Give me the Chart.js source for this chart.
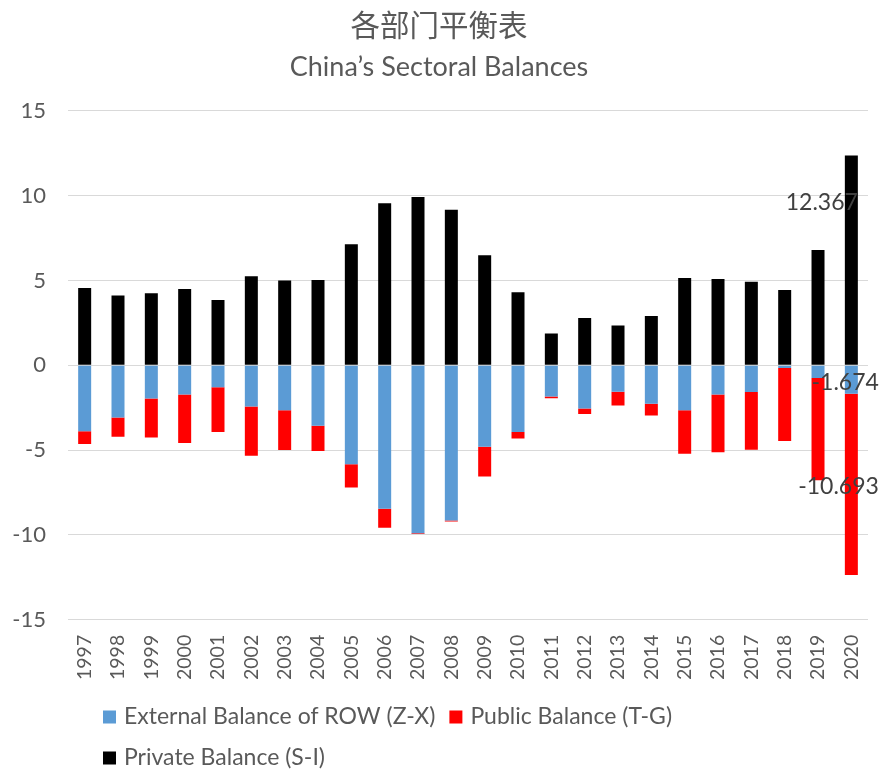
<!DOCTYPE html>
<html>
<head>
<meta charset="utf-8">
<script src="https://cdn.jsdelivr.net/npm/chart.js@4"></script>
<style>
  html, body { margin: 0; padding: 0; background: #fff; }
  #wrap { width: 882px; height: 769px; }
</style>
</head>
<body>
<div id="wrap"><canvas id="myChart"></canvas></div>
<script>
const years = ['1997','1998','1999','2000','2001','2002','2003','2004','2005','2006','2007','2008',
  '2009','2010','2011','2012','2013','2014','2015','2016','2017','2018','2019','2020'];

// External balance of rest of world (Z-X)
const externalBalance = [-3.89, -3.08, -1.96, -1.72, -1.30, -2.43, -2.65, -3.56, -5.83, -8.46, -9.90, -9.15,
  -4.80, -3.93, -1.84, -2.55, -1.56, -2.27, -2.65, -1.72, -1.58, -0.16, -0.75, -1.674];
// Public balance (T-G)
const publicBalance = [-0.75, -1.13, -2.29, -2.86, -2.63, -2.90, -2.35, -1.50, -1.38, -1.12, -0.05, -0.06,
  -1.76, -0.38, -0.10, -0.32, -0.81, -0.69, -2.57, -3.40, -3.40, -4.30, -6.03, -10.693];
// Private balance (S-I)
const privateBalance = [4.56, 4.12, 4.24, 4.50, 3.85, 5.25, 4.99, 5.03, 7.14, 9.55, 9.92, 9.17,
  6.49, 4.30, 1.88, 2.78, 2.35, 2.90, 5.15, 5.09, 4.93, 4.44, 6.80, 12.367];

const yTicks = [-15, -10, -5, 0, 5, 10, 15];

const grey = '#595959';
const latin = 'Lato, "Open Sans", sans-serif';

// labels shown on the last year only
const lastLabels = {
  0: { dx: 27.5, dy: -11 },
  1: { dx: 27.5, dy: -89 },
  2: { dx: 6.5, dy: 47 }
};

const lastYearLabels = {
  id: 'lastYearLabels',
  afterDatasetsDraw(chart) {
    const ctx = chart.ctx;
    const i = years.length - 1;
    ctx.save();
    ctx.font = '23px ' + latin;
    ctx.fillStyle = '#404040';
    ctx.textAlign = 'right';
    ctx.textBaseline = 'middle';
    chart.data.datasets.forEach((ds, d) => {
      const el = chart.getDatasetMeta(d).data[i];
      const off = lastLabels[d];
      ctx.fillText(String(ds.data[i]), el.x + off.dx, el.y + off.dy);
    });
    ctx.restore();
  }
};

const bottomLegend = {
  id: 'bottomLegend',
  afterDraw(chart) {
    const ctx = chart.ctx;
    const ds = chart.data.datasets;
    const rows = [[0, 1], [2]];
    const rowY = [717, 758];
    ctx.save();
    ctx.font = '23px ' + latin;
    ctx.textBaseline = 'middle';
    ctx.textAlign = 'left';
    rows.forEach((row, r) => {
      let x = 103;
      row.forEach(d => {
        ctx.fillStyle = ds[d].backgroundColor;
        ctx.fillRect(x, rowY[r] - 6.5, 13, 13);
        ctx.fillStyle = grey;
        ctx.fillText(ds[d].label, x + 21, rowY[r]);
        x += 21 + ctx.measureText(ds[d].label).width + 14;
      });
    });
    ctx.restore();
  }
};

const canvas = document.getElementById('myChart');
const ctx = canvas.getContext('2d');

const data = {
  labels: years,
  datasets: [{
    label: 'External Balance of ROW (Z-X)',
    data: externalBalance,
    backgroundColor: '#5B9BD5'
  },
  {
    label: 'Public Balance (T-G)',
    data: publicBalance,
    backgroundColor: '#FF0000'
  },
  {
    label: 'Private Balance (S-I)',
    data: privateBalance,
    backgroundColor: '#000000'
  }]
};

const myChart = new Chart(ctx, {
  type: 'bar',
  data: data,
  plugins: [lastYearLabels, bottomLegend],
  options: {
    responsive: true,
    maintainAspectRatio: false,
    animation: false,
    datasets: {
      bar: { barPercentage: 0.78, categoryPercentage: 0.5 }
    },
    layout: {
      padding: { left: 8, right: 12, top: 0, bottom: 82 }
    },
    plugins: {
      legend: { display: false },
      tooltip: { enabled: false },
      title: {
        display: true,
        text: '各部门平衡表',
        color: grey,
        font: { family: '"Noto Sans CJK SC", sans-serif', size: 29.5, weight: 'normal' },
        padding: { top: 7, bottom: 9 }
      },
      subtitle: {
        display: true,
        text: 'China’s Sectoral Balances',
        color: grey,
        font: { family: latin, size: 27, weight: 'normal' },
        padding: { top: 0, bottom: 27 }
      }
    },
    scales: {
      x: {
        stacked: true,
        grid: { display: false },
        border: { display: false },
        ticks: {
          color: grey,
          font: { family: latin, size: 19.5 },
          minRotation: 90,
          maxRotation: 90,
          padding: 7,
          autoSkip: false
        }
      },
      y: {
        stacked: true,
        min: -15,
        max: 15,
        afterBuildTicks(scale) {
          scale.ticks = yTicks.map(v => ({ value: v }));
        },
        afterFit(scale) {
          scale.width = 60;
        },
        grid: { color: '#D9D9D9', lineWidth: 1, drawTicks: false },
        border: { display: false },
        ticks: {
          color: grey,
          font: { family: latin, size: 22 },
          padding: 22
        }
      }
    }
  }
});
</script>
</body>
</html>
